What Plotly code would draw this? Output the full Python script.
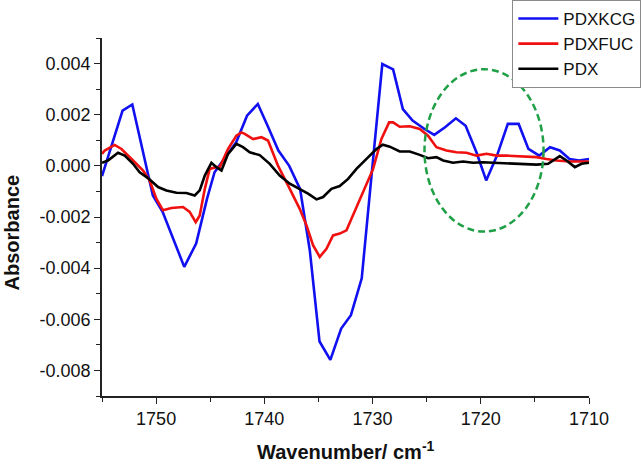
import plotly.graph_objects as go

# ---------------- data ----------------
kcg_x = [1755.0, 1753.1, 1752.2, 1750.3, 1749.4, 1747.4, 1746.3, 1745.3, 1744.6, 1743.5,
         1742.6, 1741.6, 1740.6, 1739.7, 1738.7, 1737.7, 1736.7, 1735.8, 1734.9, 1733.9,
         1732.9, 1732.0, 1731.0, 1730.1, 1729.1, 1728.1, 1727.2, 1726.3, 1725.2, 1724.3,
         1723.3, 1722.3, 1721.4, 1720.4, 1719.5, 1718.5, 1717.5, 1716.5, 1715.6, 1714.6,
         1713.6, 1712.7, 1711.8, 1710.9, 1710.0]
kcg_y = [-0.00040, 0.00216, 0.00240, -0.00116, -0.00180, -0.00395, -0.00304, -0.00129, -0.00025, 0.00040,
         0.00092, 0.00196, 0.00242, 0.00157, 0.00060, 0.00000, -0.00090, -0.00330, -0.00687, -0.00759,
         -0.00636, -0.00584, -0.00440, -0.00040, 0.00398, 0.00377, 0.00222, 0.00177, 0.00144, 0.00121,
         0.00151, 0.00186, 0.00157, 0.00053, -0.00057, 0.00040, 0.00164, 0.00164, 0.00066, 0.00040,
         0.00073, 0.00060, 0.00027, 0.00021, 0.00027]

fuc_x = [1755.0, 1754.75, 1753.83, 1753.2, 1752.13, 1751.2, 1750.6, 1749.97, 1749.36, 1748.59,
         1747.51, 1746.9, 1746.34, 1745.97, 1745.5, 1745.05, 1744.43, 1744.12, 1743.35, 1742.58,
         1742.12, 1741.81, 1741.04, 1740.27, 1739.66, 1738.73, 1737.65, 1736.73, 1736.1, 1735.5,
         1734.88, 1734.26, 1733.65, 1733.03, 1732.41, 1731.65, 1730.72, 1729.95, 1729.18, 1728.47,
         1728.1, 1727.49, 1726.56, 1725.64, 1724.87, 1724.1, 1723.17, 1722.25, 1721.32, 1720.4,
         1719.47, 1718.55, 1717.62, 1716.7, 1715.78, 1714.85, 1713.93, 1713.0, 1711.78, 1710.0]
fuc_y = [0.00047, 0.00060, 0.00082, 0.00066, 0.00021, -0.00018, -0.00057, -0.00129, -0.00174, -0.00165,
         -0.00161, -0.00180, -0.00220, -0.00194, -0.00090, -0.00012, -0.00005, -0.00005, 0.00066, 0.00118,
         0.00131, 0.00125, 0.00105, 0.00112, 0.00099, 0.00000, -0.00090, -0.00168, -0.00233, -0.00310,
         -0.00356, -0.00324, -0.00272, -0.00265, -0.00252, -0.00180, -0.00090, -0.00012, 0.00105, 0.00170,
         0.00170, 0.00153, 0.00155, 0.00144, 0.00118, 0.00073, 0.00060, 0.00053, 0.00051, 0.00040,
         0.00047, 0.00040, 0.00040, 0.00038, 0.00038, 0.00034, 0.00027, 0.00021, 0.00017, 0.00017]

pdx_x = [1755.0, 1754.45, 1753.52, 1752.9, 1752.13, 1751.52, 1750.75, 1749.82, 1749.05, 1748.12,
         1747.2, 1746.43, 1745.97, 1745.5, 1744.89, 1744.43, 1743.96, 1743.35, 1742.58, 1741.97,
         1741.35, 1740.43, 1739.5, 1738.58, 1737.65, 1736.73, 1735.96, 1735.18, 1734.57, 1733.8,
         1733.03, 1732.26, 1731.49, 1730.56, 1729.64, 1729.05, 1728.41, 1727.49, 1726.56, 1725.64,
         1724.87, 1724.1, 1723.48, 1722.56, 1721.64, 1720.71, 1719.79, 1718.86, 1717.62, 1716.7,
         1715.78, 1714.85, 1713.78, 1713.32, 1712.7, 1712.08, 1711.31, 1710.69, 1710.0]
pdx_y = [0.00012, 0.00021, 0.00051, 0.00040, 0.00008, -0.00025, -0.00048, -0.00083, -0.00096, -0.00105,
         -0.00106, -0.00116, -0.00096, -0.00038, 0.00012, -0.00005, -0.00018, 0.00047, 0.00086, 0.00073,
         0.00053, 0.00042, 0.00008, -0.00038, -0.00070, -0.00090, -0.00109, -0.00131, -0.00122, -0.00090,
         -0.00079, -0.00051, -0.00012, 0.00027, 0.00066, 0.00083, 0.00075, 0.00056, 0.00056, 0.00043,
         0.00030, 0.00034, 0.00021, 0.00012, 0.00017, 0.00012, 0.00014, 0.00012, 0.00010, 0.00008,
         0.00008, 0.00005, 0.00008, 0.00021, 0.00038, 0.00021, -0.00005, 0.00008, 0.00012]

series_names = ["PDXKCG", "PDXFUC", "PDX"]
series_colors = ["#1010F0", "#F01010", "#000000"]

y_tickvals = [-0.008, -0.006, -0.004, -0.002, 0.000, 0.002, 0.004]
y_ticktext = ["-0.008", "-0.006", "-0.004", "-0.002", "0.000", "0.002", "0.004"]
x_tickvals = [1750, 1740, 1730, 1720, 1710]

# highlighted region (ellipse) in data units
ell_x = [1725.2, 1714.2]
ell_y = [-0.00257, 0.00378]

FONT = "Arial, 'Liberation Sans', sans-serif"

fig = go.Figure()
for xs, ys, name, col in zip([kcg_x, fuc_x, pdx_x], [kcg_y, fuc_y, pdx_y], series_names, series_colors):
    fig.add_trace(go.Scatter(x=xs, y=ys, mode="lines", name=name,
                             line=dict(color=col, width=2.6)))

fig.add_shape(type="circle", xref="x", yref="y",
              x0=ell_x[0], x1=ell_x[1], y0=ell_y[0], y1=ell_y[1],
              line=dict(color="#1FA046", width=2.5, dash="7px,4px"))

fig.update_layout(
    width=642, height=464,
    margin=dict(l=102, r=53, t=38, b=68, autoexpand=False),
    paper_bgcolor="white", plot_bgcolor="white",
    font=dict(family=FONT, size=18, color="#111111"),
    showlegend=True,
    legend=dict(xref="container", yref="container", x=0.999, y=1.0,
                xanchor="right", yanchor="top",
                bordercolor="#8a8a8a", borderwidth=1, bgcolor="white",
                font=dict(size=17, family=FONT, color="#111111"),
                tracegroupgap=0, itemwidth=40),
    xaxis=dict(range=[1755, 1710], showgrid=False, zeroline=False,
               showline=True, linecolor="#222222", linewidth=1.6,
               ticks="outside", ticklen=6, tickwidth=1.4, tickcolor="#222222",
               tickvals=x_tickvals, automargin=False,
               minor=dict(ticks="outside", ticklen=4, tickwidth=1.4, tickcolor="#222222",
                          tickvals=[1755, 1745, 1735, 1725, 1715])),
    yaxis=dict(range=[-0.009, 0.005], showgrid=False, zeroline=False,
               showline=True, linecolor="#222222", linewidth=1.6,
               ticks="outside", ticklen=6, tickwidth=1.4, tickcolor="#222222",
               tickvals=y_tickvals, ticktext=y_ticktext, automargin=False,
               minor=dict(ticks="outside", ticklen=4, tickwidth=1.4, tickcolor="#222222",
                          tickvals=[-0.009, -0.007, -0.005, -0.003, -0.001, 0.001, 0.003, 0.005])),
    annotations=[
        dict(text="<b>Wavenumber/ cm<sup>-1</sup></b>", xref="paper", yref="paper",
             x=0.5, y=-0.152, xanchor="center", yanchor="middle", showarrow=False,
             font=dict(size=20, family=FONT, color="#111111")),
        dict(text="<b>Absorbance</b>", xref="paper", yref="paper",
             x=-0.184, y=0.458, xanchor="center", yanchor="middle", showarrow=False,
             textangle=-90, font=dict(size=20, family=FONT, color="#111111")),
    ],
)

fig.write_html("out.html", config={"displayModeBar": False},
               post_script="document.body.style.margin='0px';document.body.style.overflow='hidden';")
